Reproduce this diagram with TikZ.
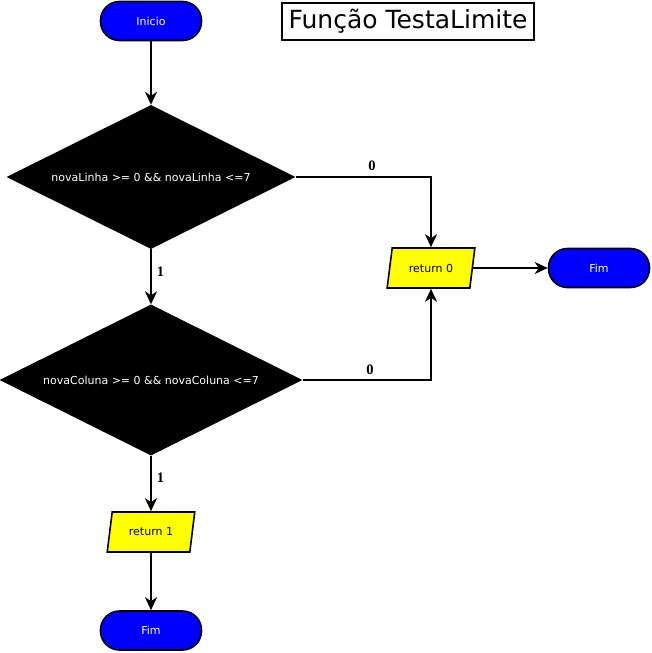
\documentclass[tikz,border=0pt]{standalone}
\usepackage{fontspec}
\setmainfont{DejaVu Sans}
\newfontfamily\lblfont{Liberation Serif}
\usetikzlibrary{shapes.geometric,arrows.meta}
\definecolor{termblue}{RGB}{0,0,255}
\definecolor{ioyellow}{RGB}{255,255,0}
\begin{document}
\begin{tikzpicture}[x=1pt,y=-1pt,
  terminal/.style={draw=black,line width=1.6pt,fill=termblue,rounded corners=19pt,
    minimum width=101pt,minimum height=39pt,inner sep=0pt,text=white,font=\fontsize{11}{13}\selectfont},
  decision/.style={diamond,fill=black,draw=none,aspect=2,inner sep=0pt,text=white,font=\fontsize{11}{13}\selectfont},
  iobox/.style={trapezium,trapezium left angle=71,trapezium right angle=109,trapezium stretches=true,
    draw=black,line width=1.6pt,fill=ioyellow,minimum width=88pt,minimum height=40pt,inner sep=0pt,font=\fontsize{11}{13}\selectfont},
  titlebox/.style={draw=black,line width=1.6pt,minimum width=252pt,minimum height=37pt,inner sep=0pt,font=\fontsize{25}{28}\selectfont},
  flow/.style={line width=1.8pt,-{Stealth[length=13pt,width=12pt,inset=4pt]}},
  lbl/.style={font=\lblfont\bfseries\fontsize{14.5}{16}\selectfont,inner sep=0pt}]
\useasboundingbox (0,0) rectangle (652,653);
\node[terminal] (ini) at (151,21) {Inicio};
\node[titlebox] (title) at (408,21.5) {Função TestaLimite};
\node[decision,minimum width=289pt,minimum height=144pt] (d1) at (151,177) {novaLinha >= 0 \&\& novaLinha <=7};
\node[decision,minimum width=303pt,minimum height=151pt] (d2) at (151,380) {novaColuna >= 0 \&\& novaColuna <=7};
\node[iobox] (r0) at (431,268) {return 0};
\node[terminal] (fim1) at (599,268) {Fim};
\node[iobox] (r1) at (151,532) {return 1};
\node[terminal] (fim2) at (151,630.5) {Fim};
\draw[flow] (ini) -- (d1);
\draw[flow] (d1) -- (d2) node[lbl,pos=0.4,right=5pt] {1};
\draw[flow] (d2) -- (r1) node[lbl,pos=0.4,right=5pt] {1};
\draw[flow] (r1) -- (fim2);
\draw[flow] (d1.east) -| (r0.north);
\draw[flow] (d2.east) -| (r0.south);
\draw[flow] (r0.east) -- (fim1.west);
\node[lbl] (l0a) at (372,166) {0};
\node[lbl] (l0b) at (370,370) {0};
\end{tikzpicture}
\end{document}
